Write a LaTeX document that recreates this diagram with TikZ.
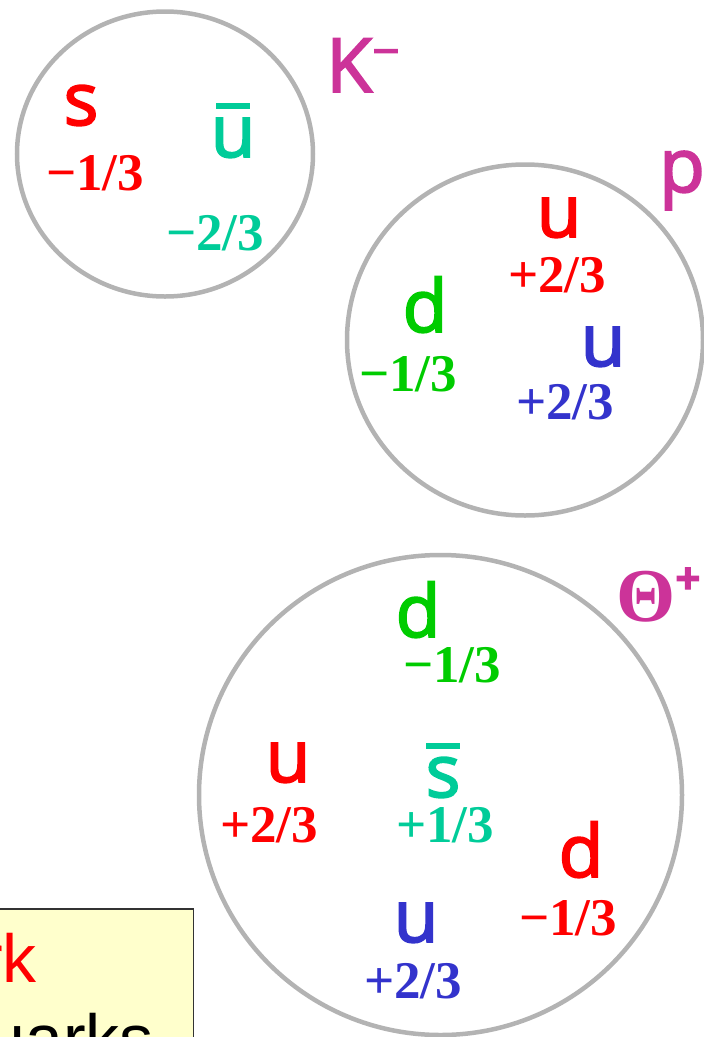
\documentclass[tikz,border=0pt]{standalone}
\usepackage{fontspec}
\setmainfont{Liberation Serif}
\newfontfamily\quarkfont{Open Sans}[FakeBold=2.5]
\newfontfamily\notefont{Liberation Sans}
\usetikzlibrary{shapes.geometric}
\definecolor{qred}{RGB}{255,0,0}
\definecolor{qteal}{RGB}{0,204,153}
\definecolor{qgreen}{RGB}{0,204,0}
\definecolor{qblue}{RGB}{51,51,204}
\definecolor{hadron}{RGB}{204,51,153}
\definecolor{shell}{RGB}{179,179,179}
\definecolor{notefill}{RGB}{255,255,204}
\newcommand{\antiq}[1]{\ooalign{#1\cr\hidewidth\rule[0.66em]{0.46em}{0.08em}\hidewidth\cr}}

\begin{document}
\begin{tikzpicture}[
    x=1pt, y=-1pt,
    bag/.style={ellipse, draw=shell, line width=4.5pt, inner sep=0pt},
    quark/.style={anchor=base, inner sep=0pt,
      font=\quarkfont\fontsize{73}{73}\selectfont},
    charge/.style={anchor=base, inner sep=0pt,
      font=\bfseries\fontsize{53}{53}\selectfont},
    hadronlbl/.style={anchor=base west, inner sep=0pt, text=hadron}
  ]
    \useasboundingbox (0,0) rectangle (704,1037);

    % note box, cut by the page edge
    \node[draw=black!80, line width=1.5pt, fill=notefill, rectangle,
      minimum width=214pt, minimum height=150pt, anchor=north east]
      (note) at (194,908) {};
    \node[anchor=base east, inner sep=0pt, text=qred,
      font=\notefont\fontsize{68}{68}\selectfont] (notered) at (37,982) {rk};
    \node[anchor=base east, inner sep=0pt,
      font=\notefont\fontsize{68}{68}\selectfont] (noteblack) at (154,1062) {uarks};

    % K-
    \node[bag, minimum width=296pt, minimum height=285pt] (kaon) at (165,154) {};
    \node[hadronlbl, font=\quarkfont\fontsize{75}{75}\selectfont] (kaonlbl) at (326,92)
      {K\raisebox{24pt}{\fontsize{48}{48}\selectfont −}};
    \node[quark, text=qred] (sK) at (81,125) {s};
    \node[charge, text=qred] (sKq) at (95,190) {−1/3};
    \node[quark, text=qteal] (ubarK) at (233,157) {\antiq{u}};
    \node[charge, text=qteal] (ubarKq) at (215,250) {−2/3};

    % p
    \node[bag, minimum width=356pt, minimum height=351pt] (proton) at (525,340) {};
    \node[hadronlbl, anchor=base, font=\quarkfont\fontsize{75}{75}\selectfont]
      (protonlbl) at (682,192) {p};
    \node[quark, text=qred] (uP) at (559,237) {u};
    \node[charge, text=qred] (uPq) at (557,292) {+2/3};
    \node[quark, text=qgreen] (dP) at (425,332) {d};
    \node[charge, text=qgreen] (dPq) at (408,391) {−1/3};
    \node[quark, text=qblue] (uuP) at (603,366) {u};
    \node[charge, text=qblue] (uuPq) at (565,419) {+2/3};

    % Theta+
    \node[bag, minimum width=483pt, minimum height=480pt] (theta) at (440.5,795) {};
    \node[hadronlbl, font=\bfseries\fontsize{76}{76}\selectfont] (thetalbl) at (616,621)
      {Θ\raisebox{27pt}{\quarkfont\bfseries\fontsize{44}{44}\selectfont +}};
    \node[quark, text=qgreen] (dT) at (418,637) {d};
    \node[charge, text=qgreen] (dTq) at (452,682) {−1/3};
    \node[quark, text=qred] (uT) at (288,782) {u};
    \node[charge, text=qred] (uTq) at (269,842) {+2/3};
    \node[quark, text=qteal] (sbarT) at (443,797) {\antiq{s}};
    \node[charge, text=qteal] (sbarTq) at (445,842) {+1/3};
    \node[quark, text=qred] (ddT) at (581,877) {d};
    \node[charge, text=qred] (ddTq) at (568,935) {−1/3};
    \node[quark, text=qblue] (uuT) at (416,942) {u};
    \node[charge, text=qblue] (uuTq) at (413,998) {+2/3};
  \end{tikzpicture}
\end{document}
